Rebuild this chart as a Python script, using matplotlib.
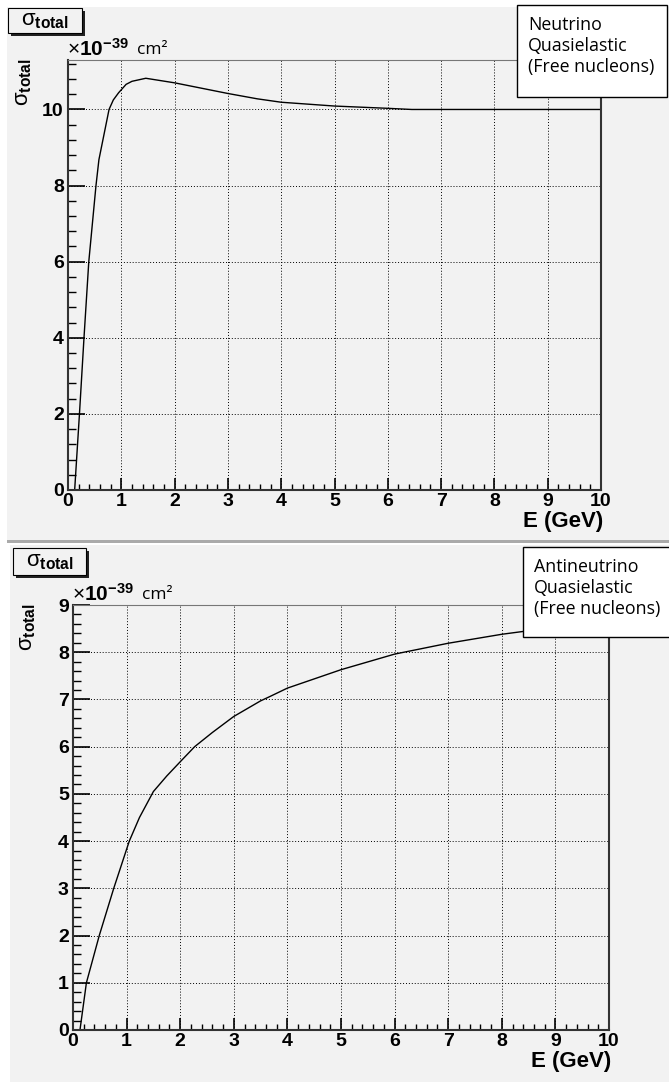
import matplotlib.pyplot as plt
from matplotlib.patches import Rectangle
from matplotlib.ticker import MultipleLocator

plt.rcParams['font.family'] = 'Liberation Sans'
plt.rcParams['font.weight'] = 'bold'
plt.rcParams['mathtext.fontset'] = 'custom'
plt.rcParams['mathtext.rm'] = 'Liberation Sans:normal'
plt.rcParams['mathtext.bf'] = 'Liberation Sans:bold'
plt.rcParams['mathtext.it'] = 'Liberation Sans:italic'

W, H = 669, 1082
BG = '#f2f2f2'

# neutrino QE, free nucleons (x1e-39 cm2)
E_NU = [0.125, 0.215, 0.30, 0.39, 0.525, 0.58, 0.77, 0.85, 0.95, 1.09, 1.2,
        1.46, 2.0, 3.0, 3.55, 4.0, 5.0, 6.0, 6.45, 7.0, 8.0, 9.0, 10.0]
SIG_NU = [0.0, 2.0, 4.0, 6.0, 8.0, 8.68, 10.0, 10.25, 10.44, 10.66, 10.74,
          10.82, 10.70, 10.42, 10.28, 10.19, 10.09, 10.03, 10.0, 10.0, 10.0,
          10.0, 10.0]

# antineutrino QE, free nucleons
E_NUBAR = [0.13, 0.25, 0.49, 0.76, 1.05, 1.24, 1.5, 1.75, 2.0, 2.27, 2.6, 3.0,
           3.5, 3.67, 4.0, 5.0, 6.0, 7.0, 8.0, 8.4, 9.0, 10.0]
SIG_NUBAR = [0.0, 1.0, 2.0, 3.0, 4.0, 4.5, 5.05, 5.38, 5.68, 6.0, 6.3, 6.64,
             6.97, 7.06, 7.24, 7.63, 7.96, 8.19, 8.38, 8.44, 8.55, 8.70]

LABELS = ['Neutrino\nQuasielastic\n(Free nucleons)',
          'Antineutrino\nQuasielastic\n(Free nucleons)']
SIGMA = r'$\mathrm{\sigma}_{\mathbf{total}}$'


def fx(x):
  return x / W


def fy(y):
  return 1 - y / H


def rect(fig, x0, y0, x1, y1, **kw):
  fig.add_artist(Rectangle((fx(x0), fy(y1)), (x1 - x0) / W, (y1 - y0) / H,
                           transform=fig.transFigure, **kw))


def panel(fig, box, e, sig, ymax, ymajor, title_box, textbox, label):
  left, top, right, bottom = box
  ax = fig.add_axes([fx(left), fy(bottom), (right - left) / W, (bottom - top) / H])
  ax.set_facecolor(BG)
  ax.plot(e, sig, color='black', lw=1.0)
  ax.set_xlim(0, 10)
  ax.set_ylim(0, ymax)
  ax.xaxis.set_major_locator(MultipleLocator(1))
  ax.xaxis.set_minor_locator(MultipleLocator(0.2))
  ax.yaxis.set_major_locator(MultipleLocator(ymajor))
  ax.yaxis.set_minor_locator(MultipleLocator(ymajor / 5))
  ax.grid(True, which='major', color='black', lw=0.7, ls=(0, (1, 2)))
  ax.tick_params(axis='x', which='major', direction='in', length=8.6, width=1.2,
                 pad=2, labelsize=14)
  ax.tick_params(axis='x', which='minor', direction='in', length=4.3, width=1.0)
  ax.tick_params(axis='y', which='major', direction='in', length=12, width=1.2,
                 pad=3, labelsize=14)
  ax.tick_params(axis='y', which='minor', direction='in', length=6, width=1.0)
  for s in ['left', 'bottom', 'right']:
    ax.spines[s].set_color('#333333')
    ax.spines[s].set_linewidth(1.5)
  ax.spines['top'].set_color('#777777')
  ax.spines['top'].set_linewidth(0.8)

  # E (GeV)
  fig.text(fx(right + 2), fy(bottom + 32), 'E (GeV)', ha='right', va='center',
           fontsize=16)
  # y-axis title
  fig.text(fx(left - 45), fy(top - 2), SIGMA, rotation=90,
           ha='center', va='top', fontsize=16)
  # exponent
  fig.text(fx(left - 1), fy(top - 11), r'$\times\mathbf{10^{-39}}$', ha='left',
           va='center', fontsize=15)
  fig.text(fx(left + 69), fy(top - 10), 'cm²', ha='left', va='center',
           fontsize=12.5, family='Open Sans', fontweight='normal')

  # title box with shadow
  bx0, by0, bx1, by1 = title_box
  rect(fig, bx0 + 3, by0 + 3, bx1 + 3, by1 + 3, facecolor='#222222',
       edgecolor='none', zorder=3)
  rect(fig, bx0, by0, bx1, by1, facecolor=BG, edgecolor='black', lw=0.8, zorder=3)
  fig.text(fx((bx0 + bx1) / 2), fy((by0 + by1) / 2), SIGMA,
           ha='center', va='center', fontsize=16, zorder=4)

  # label box
  tx0, ty0, tx1, ty1 = textbox
  rect(fig, tx0, ty0, tx1, ty1, facecolor='white', edgecolor='black', lw=1.0,
       zorder=3)
  fig.text(fx(tx0 + 11), fy(ty0 + 11), label, ha='left', va='top',
           fontsize=12.8, family='Open Sans', fontweight='normal',
           linespacing=1.2, zorder=4)
  return ax


fig = plt.figure(figsize=(W / 100, H / 100), dpi=100)
fig.patch.set_facecolor('white')

# canvases
rect(fig, 7, 7, 669, 540, facecolor=BG, edgecolor='none', zorder=-5)
rect(fig, 10, 545, 669, 1082, facecolor=BG, edgecolor='none', zorder=-5)
rect(fig, 7, 540, 669, 543, facecolor='#aaaaaa', edgecolor='none', zorder=-5)

panel(fig, (68, 60, 601, 490), E_NU, SIG_NU, 11.3, 2,
      (8, 8, 82, 33), (517, 5, 667, 97), LABELS[0])
panel(fig, (73, 605, 609, 1030), E_NUBAR, SIG_NUBAR, 9.0, 1,
      (13, 548, 86, 575), (523, 547, 672, 637), LABELS[1])

fig.savefig('out.png', dpi=100, facecolor=fig.get_facecolor())
